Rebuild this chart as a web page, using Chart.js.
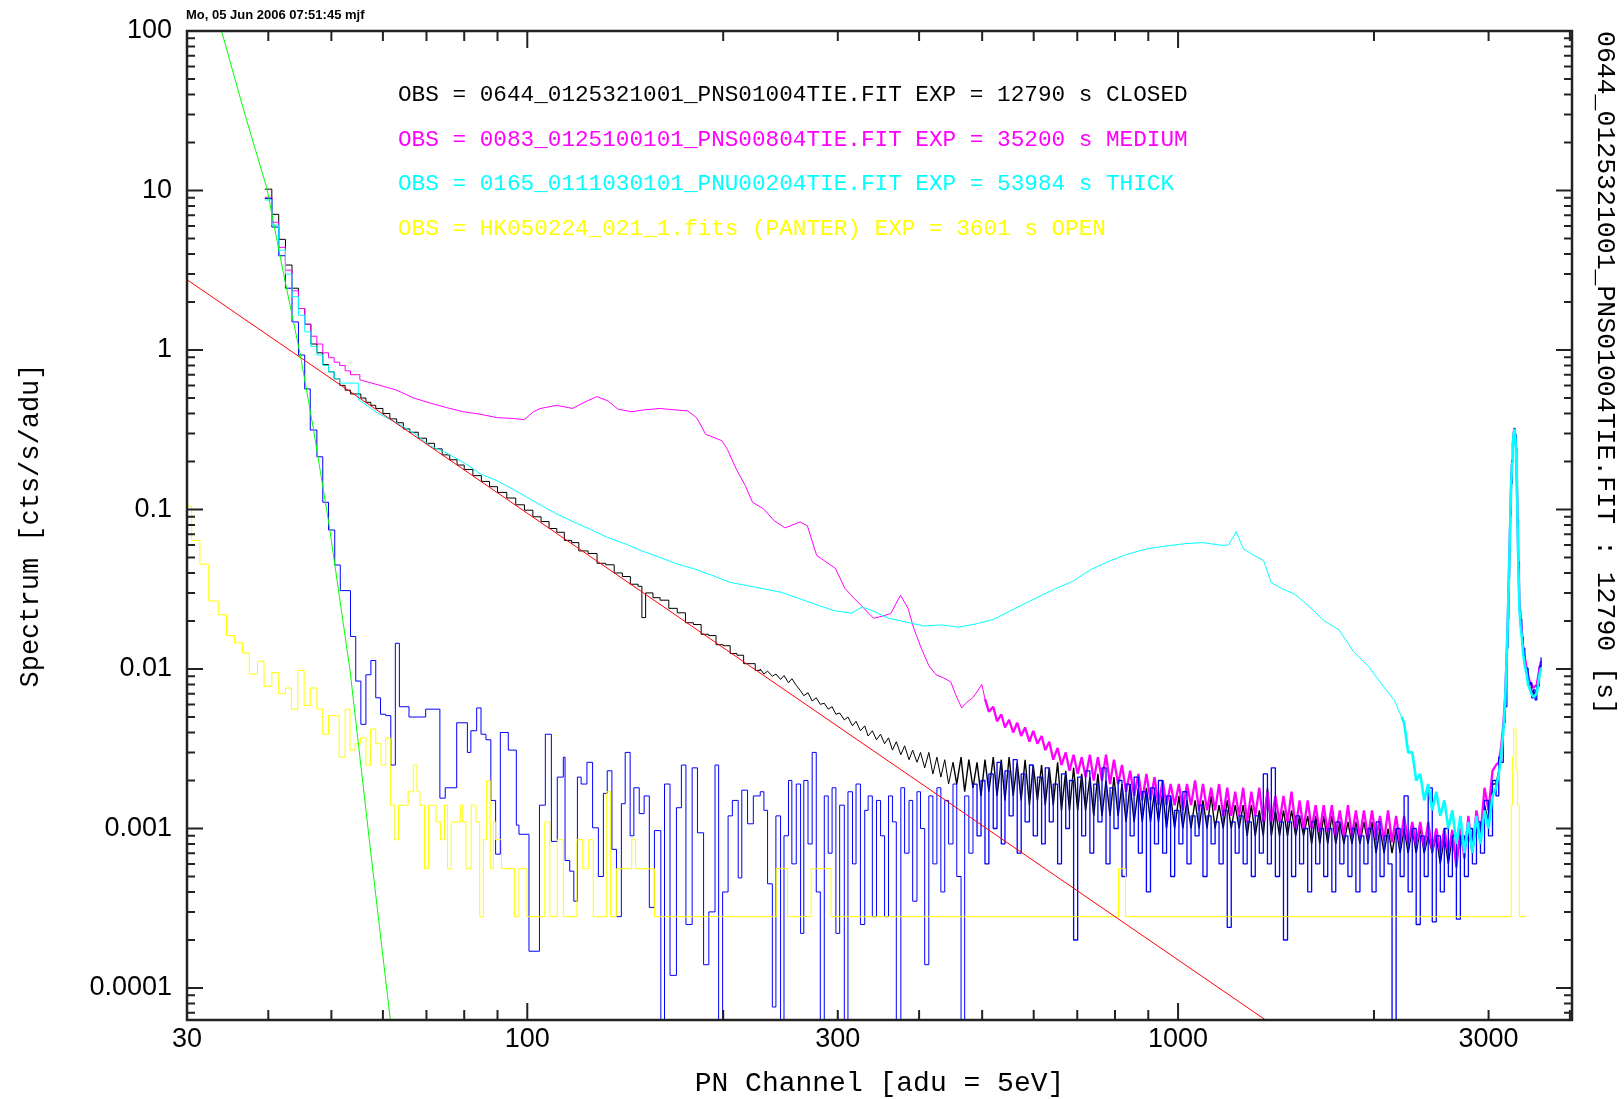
<!DOCTYPE html>
<html>
<head>
<meta charset="utf-8">
<title>PN spectrum</title>
<script src="https://cdn.jsdelivr.net/npm/chart.js@4.4.1/dist/chart.umd.min.js"></script>
<style>
  html, body { margin: 0; padding: 0; background: #fff; }
  canvas { display: block; }
</style>
</head>
<body>
<canvas id="spec" width="1624" height="1099"></canvas>
<script>
// axis ranges and tick labels
const chMin = 30
const chMax = 4030
const yMin = 6.3e-5
const yMax = 100
const xTickLabels = [30, 100, 300, 1000, 3000]
const yTickLabels = [100, 10, 1, 0.1, 0.01, 0.001, 0.0001]

const stampText = 'Mo, 05 Jun 2006 07:51:45 mjf'
const obsLines = [
  'OBS = 0644_0125321001_PNS01004TIE.FIT EXP = 12790 s CLOSED',
  'OBS = 0083_0125100101_PNS00804TIE.FIT EXP = 35200 s MEDIUM',
  'OBS = 0165_0111030101_PNU00204TIE.FIT EXP = 53984 s THICK',
  'OBS = HK050224_021_1.fits (PANTER) EXP = 3601 s OPEN'
]
const obsColors = ['#000000', '#ff00ff', '#00ffff', '#ffff00']

// model lines
const greenCh = [33.9, 36.6, 39.8, 42.2, 44.8, 46.9, 49.6, 53.4, 57.3, 61.6]
const greenVal = [100, 32.7, 10.3, 3.03, 0.93, 0.323, 0.08, 0.00986, 0.00079, 6.3e-5]
const redCh = [30, 1363]
const redVal = [2.76, 6.3e-5]

// shared channel grid for the noisy high-channel part
const gridCh = [
  228, 231, 234, 238, 241, 245, 248, 252, 255, 259,
  263, 266, 270, 274, 278, 282, 286, 290, 294, 298,
  302, 307, 311, 316, 320, 325, 330, 334, 339, 344,
  349, 354, 359, 364, 369, 375, 380, 386, 391, 397,
  402, 408, 414, 420, 426, 432, 438, 444, 451, 457,
  464, 470, 477, 484, 491, 498, 505, 512, 520, 527,
  535, 542, 550, 558, 566, 574, 582, 591, 599, 608,
  617, 625, 634, 643, 653, 662, 672, 681, 691, 701,
  711, 721, 732, 742, 753, 764, 775, 786, 797, 809,
  820, 832, 844, 856, 869, 881, 894, 907, 920, 933,
  947, 960, 974, 988, 1003, 1017, 1032, 1047, 1062, 1077,
  1092, 1108, 1124, 1140, 1156, 1173, 1190, 1207, 1224, 1241,
  1259, 1277, 1296, 1314, 1333, 1352, 1372, 1391, 1411, 1432,
  1452, 1473, 1494, 1516, 1537, 1559, 1582, 1604, 1627, 1651,
  1674, 1698, 1723, 1747, 1772, 1798, 1824, 1850, 1876, 1903,
  1930, 1958, 1986, 2015, 2043, 2073, 2102, 2132, 2163, 2194,
  2225, 2257, 2290, 2322, 2356, 2389, 2423, 2458, 2493, 2529,
  2565, 2602, 2639, 2677, 2715, 2754, 2793, 2833, 2874, 2915,
  2957, 2999, 3042
]

// channels across the Al-K line
const peakCh = [
  3080, 3110, 3135, 3160, 3180, 3200, 3212, 3222, 3231, 3240,
  3250, 3260, 3269, 3279, 3288, 3297, 3307, 3315, 3323, 3334,
  3346, 3360, 3374, 3393, 3410, 3434, 3450, 3475, 3495, 3516,
  3537, 3558, 3575, 3591, 3612
]

// CLOSED (black)
const closedCh = [
  39.5, 40.5, 41.5, 42.5, 43.5, 44.5, 45.5, 46.5, 47.5, 48.5,
  49.5, 50.5, 51.5, 52.5, 53.5, 54.5, 55.5, 56.5, 57.5, 58.5,
  60, 61.5, 63, 64.5, 66, 68, 70, 72, 74, 76,
  78, 80, 82.5, 85, 87.5, 90, 93, 96, 99, 102,
  105, 108, 111, 114, 117, 120, 124, 128, 132, 136,
  140, 144, 148, 150, 152, 156, 160, 165, 170, 175,
  180, 185, 190, 195, 200, 205, 210, 215, 220, 224
]
const closedLow = [
  10.2, 7.09, 4.94, 3.41, 2.44, 1.82, 1.45, 1.09, 0.96, 0.81,
  0.73, 0.66, 0.60, 0.56, 0.53, 0.53, 0.50, 0.47, 0.45, 0.43,
  0.40, 0.37, 0.35, 0.32, 0.305, 0.28, 0.26, 0.24, 0.22, 0.205,
  0.19, 0.178, 0.163, 0.15, 0.139, 0.128, 0.118, 0.107, 0.099, 0.090,
  0.084, 0.076, 0.072, 0.064, 0.062, 0.055, 0.053, 0.046, 0.045, 0.040,
  0.038, 0.034, 0.033, 0.021, 0.030, 0.028, 0.027, 0.024, 0.0225, 0.0195,
  0.0190, 0.0165, 0.0162, 0.0142, 0.0140, 0.0125, 0.0122, 0.0108, 0.0108, 0.0098
]
const closedHigh = [
  0.0100, 0.0093, 0.0097, 0.0090, 0.0093, 0.0086, 0.0091, 0.0082, 0.0087, 0.0079,
  0.0073, 0.0068, 0.0071, 0.0063, 0.0066, 0.0060, 0.0061, 0.0056, 0.0058, 0.0052,
  0.0053, 0.0048, 0.0050, 0.0044, 0.0047, 0.0041, 0.0044, 0.0038, 0.0041, 0.0036,
  0.0039, 0.0034, 0.0037, 0.0031, 0.0035, 0.0029, 0.0033, 0.0027, 0.0031, 0.0026,
  0.0030, 0.0024, 0.0030, 0.0022, 0.0028, 0.0021, 0.0027, 0.0019, 0.0026, 0.0019,
  0.0028, 0.0017, 0.0027, 0.0018, 0.0026, 0.0016, 0.0027, 0.0017, 0.0028, 0.0016,
  0.0027, 0.0015, 0.0028, 0.0016, 0.0026, 0.0015, 0.0027, 0.0014, 0.0025, 0.0015,
  0.0025, 0.0014, 0.0024, 0.0014, 0.0026, 0.0013, 0.0023, 0.0013, 0.0024, 0.0013,
  0.0022, 0.0013, 0.0021, 0.0012, 0.0022, 0.0012, 0.0020, 0.0012, 0.0021, 0.0012,
  0.0019, 0.0011, 0.0019, 0.0011, 0.0018, 0.0011, 0.0018, 0.0011, 0.0017, 0.0011,
  0.0017, 0.0010, 0.0016, 0.0010, 0.0016, 0.0010, 0.0015, 0.0010, 0.0015, 0.0010,
  0.0015, 0.0010, 0.0016, 0.0010, 0.0014, 0.0010, 0.0015, 0.0010, 0.0014, 0.0010,
  0.0014, 0.0009, 0.0014, 0.0009, 0.0013, 0.0009, 0.0018, 0.0009, 0.0013, 0.0009,
  0.0013, 0.0009, 0.0013, 0.0009, 0.0012, 0.0009, 0.0012, 0.0008, 0.0012, 0.0008,
  0.0012, 0.0008, 0.0012, 0.0008, 0.0011, 0.0008, 0.0011, 0.0008, 0.0011, 0.0008,
  0.0011, 0.0008, 0.0011, 0.0007, 0.0010, 0.0007, 0.0010, 0.0007, 0.0010, 0.0007,
  0.0010, 0.0007, 0.0010, 0.0007, 0.0010, 0.0007, 0.0009, 0.0007, 0.0009, 0.0006,
  0.0009, 0.0006, 0.0009, 0.0006, 0.0009, 0.0007, 0.0010, 0.0007, 0.0011, 0.0008,
  0.0014, 0.0011, 0.0019
]
const closedPeak = [
  0.0019, 0.0023, 0.0029, 0.0041, 0.0062, 0.0125, 0.021, 0.034, 0.055, 0.09,
  0.147, 0.2, 0.257, 0.30, 0.322, 0.29, 0.238, 0.15, 0.088, 0.045,
  0.0245, 0.019, 0.0165, 0.0125, 0.011, 0.0093, 0.0085, 0.0076, 0.0073, 0.0070,
  0.0071, 0.0073, 0.0083, 0.0094, 0.0106
]

// MEDIUM (magenta)
const mediumCh = [
  39.5, 40.5, 41.5, 42.5, 43.5, 44.5, 45.5, 46.5, 47.5, 48.5,
  49.5, 50.5, 51.5, 52.5, 53.5, 55.3, 59.4, 63, 66.9, 70.9,
  75.2, 79.8, 84.6, 89.7, 95.2, 99, 102.2, 104.6, 110.8, 117.4,
  121.9, 127.9, 133, 137.9, 144.8, 150.3, 159.8, 170, 176.4, 182.1,
  188, 199.1, 203, 209.5, 216.3, 221.9, 230.6, 239.6, 249, 262.5,
  269.4, 278.4, 287.8, 297.5, 307.7, 318.2, 329.1, 340.5, 352.3, 361.9,
  374.5, 384.7, 392.5, 403.1, 414, 424.8, 436, 447.4, 456, 465.1,
  474, 483.6, 491, 499.3
]
const mediumLow = [
  9.07, 6.32, 4.4, 3.17, 2.35, 1.82, 1.45, 1.22, 1.09, 0.96,
  0.895, 0.838, 0.80, 0.74, 0.70, 0.65, 0.60, 0.56, 0.50, 0.465,
  0.435, 0.41, 0.396, 0.377, 0.372, 0.366, 0.41, 0.429, 0.45, 0.43,
  0.467, 0.51, 0.48, 0.425, 0.41, 0.42, 0.43, 0.42, 0.415, 0.376,
  0.296, 0.27, 0.238, 0.179, 0.141, 0.111, 0.101, 0.085, 0.0767, 0.0835,
  0.079, 0.0515, 0.0469, 0.0427, 0.032, 0.0276, 0.024, 0.0208, 0.0215, 0.0223,
  0.029, 0.024, 0.018, 0.0135, 0.0105, 0.0092, 0.0088, 0.0083, 0.0068, 0.0057,
  0.0062, 0.0066, 0.0072, 0.0080
]
// from gridCh[56] (505) onwards
const mediumHigh = [
  0.0065, 0.0054, 0.0058, 0.0047,
  0.0052, 0.0043, 0.0048, 0.0040, 0.0046, 0.0038, 0.0043, 0.0035, 0.0041, 0.0034,
  0.0038, 0.0031, 0.0035, 0.0027, 0.0032, 0.0025, 0.0030, 0.0023, 0.0029, 0.0022,
  0.0028, 0.0021, 0.0029, 0.0020, 0.0028, 0.0020, 0.0029, 0.0019, 0.0027, 0.0019,
  0.0025, 0.0017, 0.0023, 0.0016, 0.0022, 0.0015, 0.0022, 0.0015, 0.0021, 0.0014,
  0.0020, 0.0014, 0.0019, 0.0014, 0.0019, 0.0013, 0.0019, 0.0014, 0.0020, 0.0013,
  0.0019, 0.0013, 0.0018, 0.0013, 0.0019, 0.0012, 0.0018, 0.0012, 0.0017, 0.0012,
  0.0018, 0.0011, 0.0017, 0.0012, 0.0018, 0.0011, 0.0017, 0.0011, 0.0016, 0.0011,
  0.0016, 0.0011, 0.0017, 0.0010, 0.0015, 0.0010, 0.0015, 0.0010, 0.0014, 0.00095,
  0.0014, 0.00095, 0.0014, 0.0009, 0.0013, 0.0009, 0.0014, 0.0009, 0.0013, 0.00088,
  0.0013, 0.00088, 0.0013, 0.00085, 0.0012, 0.00084, 0.0013, 0.00082, 0.0012, 0.0008,
  0.0012, 0.0008, 0.0011, 0.00078, 0.0011, 0.00075, 0.0011, 0.00072, 0.0010, 0.0007,
  0.0010, 0.0007, 0.00098, 0.00057, 0.0010, 0.00065, 0.0012, 0.0007, 0.0013, 0.0009,
  0.0018, 0.0013, 0.0023
]
const mediumPeak = [
  0.0025, 0.0026, 0.0032, 0.0044, 0.0066, 0.013, 0.022, 0.036, 0.057, 0.092,
  0.15, 0.2, 0.26, 0.30, 0.325, 0.29, 0.24, 0.15, 0.09, 0.046,
  0.026, 0.020, 0.0175, 0.0132, 0.0118, 0.0100, 0.0092, 0.0082, 0.0080, 0.0076,
  0.0078, 0.0080, 0.0090, 0.0101, 0.0112
]

// THICK (cyan)
const thickCh = [
  39.5, 40.5, 41.5, 42.5, 43.5, 44.5, 45.5, 46.5, 47.5, 48.5,
  49.5, 50.5, 51.5, 55, 59, 63, 67, 71, 75, 80,
  85, 90, 97, 103, 110, 117, 125, 133, 142, 150,
  160, 170, 181, 192, 205, 218, 232, 246, 262, 279,
  296, 315, 327, 340, 359, 382, 407, 433, 460, 490,
  521, 554, 589, 646, 689, 736, 786, 839, 896, 957,
  1022, 1092, 1166, 1196, 1228, 1260, 1311, 1354, 1390, 1436,
  1513, 1593, 1678, 1767, 1862, 1961, 2066, 2148, 2205
]
const thickLow = [
  8.72, 6.06, 4.22, 2.99, 2.16, 1.65, 1.30, 1.05, 0.93, 0.80,
  0.73, 0.66, 0.62, 0.49, 0.40, 0.35, 0.30, 0.25, 0.227, 0.196,
  0.166, 0.151, 0.128, 0.111, 0.0955, 0.0846, 0.0751, 0.0667, 0.0605, 0.055,
  0.050, 0.0455, 0.0423, 0.0387, 0.0349, 0.0333, 0.0317, 0.0302, 0.0276, 0.0252,
  0.0232, 0.0224, 0.0245, 0.0231, 0.0208, 0.0197, 0.0186, 0.0189, 0.0183, 0.0192,
  0.0205, 0.0233, 0.0264, 0.0317, 0.0355, 0.0422, 0.0477, 0.0527, 0.0567, 0.059,
  0.061, 0.062, 0.0596, 0.060, 0.0727, 0.0567, 0.0513, 0.0477, 0.0348, 0.0323,
  0.0293, 0.0245, 0.020, 0.0176, 0.0128, 0.0104, 0.0078, 0.0064, 0.0050
]
// from gridCh[160] (2225) onwards
const thickHigh = [
  0.0046, 0.0030, 0.0030, 0.0020, 0.0022, 0.0015, 0.0019, 0.0013, 0.0017, 0.0012,
  0.0015, 0.0010, 0.0013, 0.0008, 0.0012, 0.0007, 0.0011, 0.0007, 0.0012, 0.0008,
  0.0013, 0.0010, 0.0016
]
const thickPeak = [
  0.0018, 0.0022, 0.0028, 0.0040, 0.0060, 0.0122, 0.021, 0.034, 0.055, 0.089,
  0.146, 0.198, 0.256, 0.298, 0.32, 0.288, 0.236, 0.148, 0.088, 0.044,
  0.024, 0.0185, 0.016, 0.0122, 0.0105, 0.0092, 0.0080, 0.0074, 0.0069, 0.0067,
  0.0068, 0.0071, 0.0080, 0.0091, 0.0102
]

// blue trace
const blueCh = [
  39.5, 40.5, 41.5, 42.5, 43.5, 44.5, 45.5, 46.4, 47.5, 48.5,
  49.5, 50.6, 51.6, 53.5, 54.5, 55.5, 56.5, 57.5, 58.5, 59.5,
  60.6, 61.7, 62.7, 63.6, 65.8, 69.8, 73.4, 74.8, 77.9, 80.9,
  81.9, 83.6, 84.9, 86.4, 87.9, 89.4, 90.9, 93.5, 96.2, 97.1,
  100.6, 104.4, 106.6, 108.9, 111.2, 113.6, 114.3, 116.2, 117.9, 119.4,
  121, 123.5, 126, 128.6, 130.9, 132.7, 134.9, 137.1, 139.5, 141.4,
  143.9, 145.8, 148.6, 151.2, 154, 156.8, 160.4, 162.5, 165.7, 169.5,
  172.5, 175.3, 179.2, 182.6, 186.6, 190.1, 194.3, 196.8, 199.6, 203.5,
  206.6, 210.9, 213.6, 218, 222.5
]
const blueLow = [
  8.9, 5.9, 3.9, 2.44, 1.5, 0.93, 0.57, 0.315, 0.214, 0.111,
  0.0744, 0.0449, 0.031, 0.016, 0.0084, 0.0045, 0.0092, 0.0113, 0.0066, 0.0052,
  0.0051, 0.0025, 0.0145, 0.0058, 0.0050, 0.0056, 0.00155, 0.0018, 0.0046, 0.0030,
  0.0041, 0.0057, 0.0039, 0.0036, 0.0015, 0.00069, 0.0040, 0.0031, 0.00105, 0.00092,
  0.00017, 0.0014, 0.0039, 0.00083, 0.0021, 0.0028, 0.00063, 0.00054, 0.00035, 0.0021,
  0.0019, 0.0026, 0.00101, 0.0005, 0.00166, 0.0023, 0.00074, 0.00028, 0.00143, 0.0030,
  0.0009, 0.0018, 0.00124, 0.0016, 0.00032, 0.00097, 0.00001, 0.0019, 0.00012, 0.00135,
  0.0025, 0.00025, 0.0024, 0.00094, 0.00014, 0.0003, 0.0025, 0.00001, 0.0004, 0.0012,
  0.0015, 0.00049, 0.00174, 0.00107, 0.0016
]
const blueHigh = [
  0.0017, 0.0013, 0.00045, 0.000076, 0.0012, 0.00001, 0.0009, 0.0020, 0.0006, 0.0019,
  0.00022, 0.0020, 0.0008, 0.0030, 0.0004, 0.00001, 0.0016, 0.0007, 0.0018, 0.00022,
  0.0014, 0.00001, 0.0017, 0.0006, 0.0019, 0.00025, 0.0013, 0.0016, 0.00028, 0.0015,
  0.0009, 0.00028, 0.0016, 0.0011, 0.00001, 0.0018, 0.0007, 0.0015, 0.00035, 0.0017,
  0.0010, 0.00014, 0.0016, 0.0006, 0.0018, 0.0004, 0.0015, 0.0008, 0.0019, 0.0005,
  0.00001, 0.0016, 0.0007, 0.0019, 0.0009, 0.0020, 0.0006, 0.0022, 0.0010, 0.0026,
  0.0008, 0.0023, 0.0012, 0.0027, 0.0007, 0.0022, 0.0011, 0.0025, 0.0009, 0.0021,
  0.0008, 0.0024, 0.0011, 0.0019, 0.0006, 0.0022, 0.0010, 0.0020, 0.0002, 0.0021,
  0.0009, 0.0023, 0.0007, 0.0019, 0.0011, 0.0024, 0.0006, 0.0018, 0.0010, 0.0020,
  0.0005, 0.0019, 0.0009, 0.0021, 0.0007, 0.0017, 0.0004, 0.0018, 0.0008, 0.0020,
  0.0007, 0.0016, 0.0005, 0.0013, 0.0008, 0.0017, 0.0006, 0.0012, 0.0009, 0.0014,
  0.0005, 0.0012, 0.0008, 0.0011, 0.0006, 0.0013, 0.00024, 0.0011, 0.0007, 0.0012,
  0.0006, 0.0011, 0.0005, 0.0012, 0.0007, 0.0022, 0.0006, 0.0024, 0.0005, 0.0011,
  0.0002, 0.0011, 0.0005, 0.0012, 0.0006, 0.0010, 0.0004, 0.0011, 0.0006, 0.0010,
  0.0005, 0.0010, 0.0004, 0.0011, 0.0006, 0.0009, 0.0005, 0.0010, 0.0004, 0.0009,
  0.0006, 0.0010, 0.0004, 0.0011, 0.0005, 0.0009, 0.0006, 0.00001, 0.0010, 0.0005,
  0.0016, 0.0004, 0.0010, 0.00025, 0.0009, 0.0005, 0.0018, 0.00026, 0.0009, 0.0004,
  0.0010, 0.0005, 0.0009, 0.00027, 0.0009, 0.0005, 0.0010, 0.0006, 0.0011, 0.0007,
  0.0015, 0.0009, 0.0020
]
const bluePeak = [
  0.0016, 0.0028, 0.0026, 0.0046, 0.0058, 0.0135, 0.0205, 0.037, 0.054, 0.093,
  0.145, 0.205, 0.255, 0.305, 0.32, 0.295, 0.235, 0.155, 0.087, 0.047,
  0.0235, 0.0205, 0.0158, 0.0135, 0.0102, 0.0101, 0.0079, 0.0082, 0.0066, 0.0074,
  0.0064, 0.0079, 0.0078, 0.0104, 0.0118
]

// OPEN (yellow)
const openCh = [
  30, 30.5, 31.4, 32.4, 33.5, 34.5, 35.5, 36.5, 37.4, 38.5,
  39.4, 40.5, 41.5, 42.5, 43.4, 44.4, 45.4, 46.4, 47.5, 48.5,
  49.5, 51.4, 52.5, 53.4, 54.4, 55.4, 56.5, 57.4, 58.5, 59.6,
  60.6, 61.6, 62.6, 63.4, 65.6, 66.8, 67.7, 68.4, 69.5, 70.5,
  72.4, 73.6, 74.6, 75.4, 76.4, 78.9, 79.6, 80.5, 82, 83.4,
  84.5, 85.6, 86.6, 87.7, 88.7, 89.4, 91.3, 95.5, 97.1, 99.9,
  106.4, 108.3, 111.2, 113.6, 119.2, 121.7, 124.3, 126.3, 132.5, 134.3,
  137.1, 144.7, 146.7, 156.9, 241.3, 251, 273, 293, 810, 830,
  3250, 3263, 3278, 3305, 3325, 3345, 3425
]
const openVal = [
  0.105, 0.064, 0.0454, 0.0267, 0.0219, 0.0162, 0.0146, 0.0126, 0.0093, 0.0112,
  0.0078, 0.0095, 0.0070, 0.0076, 0.0056, 0.0098, 0.0059, 0.0076, 0.0056, 0.0039,
  0.0051, 0.0028, 0.0056, 0.0031, 0.0034, 0.0037, 0.0025, 0.0042, 0.0034, 0.0025,
  0.0037, 0.0014, 0.00085, 0.0014, 0.0017, 0.0025, 0.0017, 0.0014, 0.00056, 0.0014,
  0.0011, 0.00085, 0.0014, 0.00056, 0.0011, 0.0014, 0.0011, 0.00056, 0.0014, 0.0011,
  0.00028, 0.00085, 0.0020, 0.00056, 0.0011, 0.00085, 0.00056, 0.00028, 0.00056, 0.00028,
  0.0011, 0.00028, 0.00085, 0.00028, 0.00085, 0.00056, 0.00085, 0.00028, 0.0017, 0.00028,
  0.00056, 0.00085, 0.00056, 0.00028, 0.00056, 0.00028, 0.00056, 0.00028, 0.00056, 0.00028,
  0.0014, 0.0028, 0.0042, 0.0023, 0.0014, 0.00028, 0.00028
]

const toPoints = (xs, ys) => xs.map((x, i) => ({ x, y: ys[i] }))

// the lowest channels are drawn as histogram steps, the rest as a line
const mediumSteps = toPoints(mediumCh.slice(0, 16), mediumLow.slice(0, 16))
const mediumLine = toPoints(mediumCh.slice(15).concat(gridCh.slice(56), peakCh), mediumLow.slice(15).concat(mediumHigh, mediumPeak))
const thickSteps = toPoints(thickCh.slice(0, 14), thickLow.slice(0, 14))
const thickLine = toPoints(thickCh.slice(13).concat(gridCh.slice(160), peakCh), thickLow.slice(13).concat(thickHigh, thickPeak))
const closedSteps = toPoints(closedCh.concat(gridCh.slice(0, 1)), closedLow.concat(closedHigh.slice(0, 1)))
const closedLine = toPoints(gridCh.concat(peakCh), closedHigh.concat(closedPeak))
const blueData = toPoints(blueCh.concat(gridCh, peakCh), blueLow.concat(blueHigh, bluePeak))
const openData = toPoints(openCh, openVal)

const widthAbove = (ch, wide) => ctx => (ctx.p0.parsed.x >= ch ? wide : 1)

// frame with inward ticks on all four sides
const inwardTicks = {
  id: 'inwardTicks',
  afterDraw (chart) {
    const { ctx, chartArea: a } = chart
    const xs = chart.scales.x
    const ys = chart.scales.y
    ctx.save()
    ctx.strokeStyle = '#222'
    ctx.lineWidth = 2
    ctx.beginPath()
    for (let e = 1; e <= 3; e++) {
      for (let m = 1; m <= 9; m++) {
        const v = m * Math.pow(10, e)
        if (v <= chMin || v >= chMax) continue
        const px = xs.getPixelForValue(v)
        const len = m === 1 ? 17 : 10
        ctx.moveTo(px, a.bottom)
        ctx.lineTo(px, a.bottom - len)
        ctx.moveTo(px, a.top)
        ctx.lineTo(px, a.top + len)
      }
    }
    for (let e = -5; e <= 1; e++) {
      for (let m = 1; m <= 9; m++) {
        const v = m * Math.pow(10, e)
        if (v < yMin || v > yMax * 1.0001) continue
        const py = ys.getPixelForValue(v)
        const len = m === 1 ? 16 : 8
        ctx.moveTo(a.left, py)
        ctx.lineTo(a.left + len, py)
        ctx.moveTo(a.right, py)
        ctx.lineTo(a.right - len, py)
      }
    }
    ctx.stroke()
    ctx.lineWidth = 2.5
    ctx.strokeRect(a.left, a.top, a.right - a.left, a.bottom - a.top)
    ctx.restore()
  }
}

// date stamp and the four observation lines
const headerText = {
  id: 'headerText',
  afterDraw (chart) {
    const { ctx } = chart
    ctx.save()
    ctx.textBaseline = 'middle'
    ctx.textAlign = 'left'
    ctx.fillStyle = '#000'
    ctx.font = 'bold 13px "Liberation Sans"'
    ctx.fillText(stampText, 186, 15)
    ctx.font = '22.7px "Liberation Mono"'
    const rows = [95, 140, 184, 229]
    obsLines.forEach((t, i) => {
      ctx.fillStyle = obsColors[i]
      ctx.fillText(t, 398, rows[i])
    })
    ctx.restore()
  }
}

const tickFont = { family: 'Liberation Sans', size: 27, lineHeight: 1 }
const titleFont = { family: 'Liberation Mono', size: 28, lineHeight: 1 }

new Chart(document.getElementById('spec'), {
  type: 'line',
  data: {
    datasets: [
      { label: 'steep fit', data: toPoints(greenCh, greenVal), borderColor: '#00ff00', order: 0 },
      { label: 'power law', data: toPoints(redCh, redVal), borderColor: '#ff0000', order: 1 },
      { label: 'OPEN', data: openData, borderColor: '#ffff00', stepped: true, order: 2 },
      { label: 'THICK', data: thickLine, borderColor: '#00ffff', order: 3, segment: { borderWidth: widthAbove(2200, 2.6) } },
      { label: 'THICK low', data: thickSteps, borderColor: '#00ffff', stepped: true, order: 3 },
      { label: 'residual', data: blueData, borderColor: '#0000ff', stepped: true, order: 4, segment: { borderWidth: widthAbove(480, 1.3) } },
      { label: 'MEDIUM', data: mediumLine, borderColor: '#ff00ff', order: 5, segment: { borderWidth: widthAbove(500, 2.3) } },
      { label: 'MEDIUM low', data: mediumSteps, borderColor: '#ff00ff', stepped: true, order: 5 },
      { label: 'CLOSED', data: closedLine, borderColor: '#000000', order: 6, segment: { borderWidth: widthAbove(450, 1.4) } },
      { label: 'CLOSED low', data: closedSteps, borderColor: '#000000', stepped: true, order: 6 }
    ]
  },
  options: {
    responsive: false,
    animation: false,
    events: [],
    devicePixelRatio: 1,
    layout: { padding: { top: 31, left: 0, right: 0, bottom: 0 } },
    elements: {
      point: { radius: 0 },
      line: { borderWidth: 1, tension: 0, fill: false, borderJoinStyle: 'bevel' }
    },
    plugins: {
      legend: { display: false },
      tooltip: { enabled: false }
    },
    scales: {
      x: {
        type: 'logarithmic',
        position: 'bottom',
        min: chMin,
        max: chMax,
        grid: { display: false, drawTicks: false },
        border: { display: false },
        afterBuildTicks: s => { s.ticks = xTickLabels.map(v => ({ value: v })) },
        afterFit: s => { s.height = 79 },
        ticks: {
          autoSkip: false,
          maxRotation: 0,
          padding: 6,
          color: '#000',
          font: tickFont,
          callback: v => String(v)
        },
        title: {
          display: true,
          text: 'PN Channel [adu = 5eV]',
          color: '#000',
          font: titleFont,
          padding: { top: 0, bottom: 1 }
        }
      },
      y: {
        type: 'logarithmic',
        position: 'left',
        min: yMin,
        max: yMax,
        grid: { display: false, drawTicks: false },
        border: { display: false },
        afterBuildTicks: s => { s.ticks = yTickLabels.map(v => ({ value: v })) },
        afterFit: s => { s.width = 187 },
        ticks: {
          autoSkip: false,
          padding: 15,
          color: '#000',
          font: tickFont,
          callback: v => String(v)
        },
        title: {
          display: true,
          text: 'Spectrum [cts/s/adu]',
          color: '#000',
          font: { family: 'Liberation Mono', size: 27, lineHeight: 1 },
          padding: { top: 17, bottom: 0 }
        }
      },
      y2: {
        type: 'logarithmic',
        position: 'right',
        min: yMin,
        max: yMax,
        grid: { display: false, drawTicks: false },
        border: { display: false },
        ticks: { display: false },
        afterFit: s => { s.width = 52 },
        title: {
          display: true,
          text: '0644_0125321001_PNS01004TIE.FIT : 12790 [s]',
          align: 'end',
          color: '#000',
          font: { family: 'Liberation Mono', size: 26.5, lineHeight: 1 },
          padding: { top: 6, bottom: 0 }
        }
      }
    }
  },
  plugins: [inwardTicks, headerText]
})
</script>
</body>
</html>
